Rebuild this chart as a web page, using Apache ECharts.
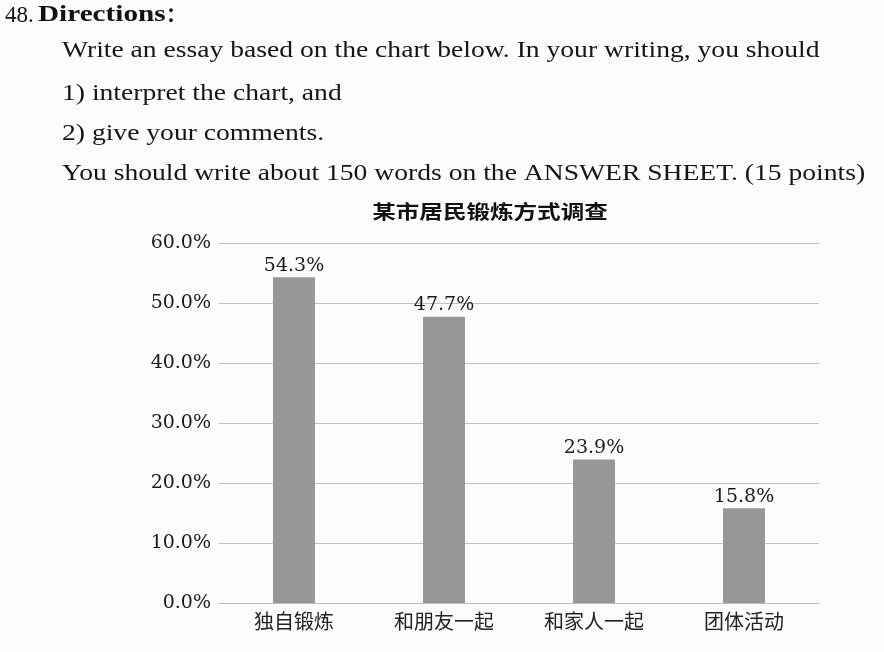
<!DOCTYPE html>
<html><head><meta charset="utf-8">
<script src="https://cdn.jsdelivr.net/npm/echarts@6/dist/echarts.min.js"></script>
<style>html,body{margin:0;padding:0;background:#fcfcfc}#c{width:884px;height:652px}</style>
</head><body><div id="c"></div>
<script>
const categories = ['独自锻炼', '和朋友一起', '和家人一起', '团体活动'];
const values = [54.3, 47.7, 23.9, 15.8];
const yTicks = [0, 10, 20, 30, 40, 50, 60];
const chartTitle = '某市居民锻炼方式调查';
const headerLines = [
  'Write an essay based on the chart below. In your writing, you should',
  '1) interpret the chart, and',
  '2) give your comments.',
  'You should write about 150 words on the ANSWER SHEET. (15 points)'
];

const serif = '"Liberation Serif", "DejaVu Serif", serif';
const numFont = '"DejaVu Serif", serif';
const cjk = '"Noto Sans CJK SC", sans-serif';
const chart = echarts.init(document.getElementById('c'));
const graphics = [
  { type: 'text', x: 5, y: 4, scaleX: 1.0, style: { text: '48.', font: '23px ' + serif, fill: '#111' } },
  { type: 'text', x: 38, y: 4, scaleX: 1.27, style: { text: 'Directions', font: 'bold 23px ' + serif, fill: '#111' } },
  { type: 'text', x: 166, y: 4, style: { text: '：', font: 'bold 20px ' + cjk, fill: '#111' } },
  { type: 'text', x: 490, y: 212, scaleX: 1.24,
    style: { text: chartTitle, font: 'bold 19px ' + cjk, fill: '#111', align: 'center', verticalAlign: 'middle' } }
];
const lineTops = [39, 82, 122, 162];
headerLines.forEach((t, i) => graphics.push({
  type: 'text', x: 62, y: lineTops[i], scaleX: 1.15,
  style: { text: t, font: '24px ' + serif, fill: '#151515' }
}));

chart.setOption({
  backgroundColor: '#fcfcfc',
  graphic: graphics,
  grid: { left: 219, right: 65, top: 243, bottom: 49, containLabel: false },
  xAxis: {
    type: 'category', data: categories,
    axisLine: { show: true, lineStyle: { color: '#bbb' } },
    axisTick: { show: false },
    axisLabel: { fontFamily: cjk, fontSize: 20, color: '#222', margin: 8 }
  },
  yAxis: {
    type: 'value', min: 0, max: 60, interval: 10,
    axisLine: { show: false }, axisTick: { show: false },
    splitLine: { lineStyle: { color: '#c2c2c2', width: 1 } },
    axisLabel: { fontFamily: numFont, fontSize: 19, color: '#1a1a1a', margin: 8,
      formatter: v => v.toFixed(1) + '%' }
  },
  series: [{
    type: 'bar', data: values, barWidth: 42,
    itemStyle: { color: '#979797' },
    label: { show: true, position: 'top', distance: 2, fontFamily: numFont, fontSize: 19, color: '#1a1a1a',
      formatter: p => p.value.toFixed(1) + '%' }
  }]
});
</script></body></html>
